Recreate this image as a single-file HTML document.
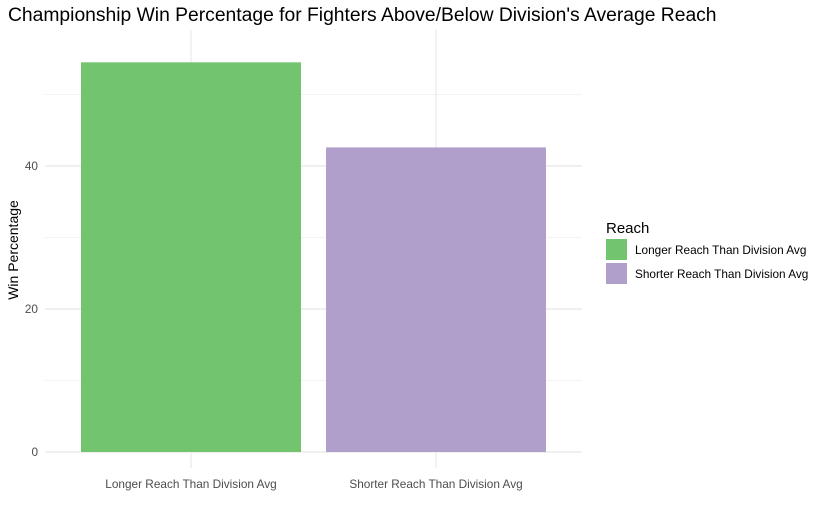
<!DOCTYPE html>
<html><head><meta charset="utf-8"><style>
body{margin:0;background:#fff;font-family:"Liberation Sans",Arial,sans-serif}
</style></head><body>
<svg width="823" height="514" xmlns="http://www.w3.org/2000/svg">
<text x="8" y="21" font-size="19.3" fill="#000">Championship Win Percentage for Fighters Above/Below Division's Average Reach</text>
<g id="grid"></g>
<g id="bars"></g>
<g id="axes"></g>
<text transform="translate(18,250) rotate(-90)" text-anchor="middle" font-size="14" fill="#000">Win Percentage</text>
<g>
<text x="606" y="233" font-size="15" fill="#000">Reach</text>
<rect x="606" y="239" width="21" height="21" fill="#72c46f"/>
<text x="635" y="254" font-size="11.8" fill="#000">Longer Reach Than Division Avg</text>
<rect x="606" y="263" width="21" height="21" fill="#b09ecb"/>
<text x="635" y="278" font-size="11.8" fill="#000">Shorter Reach Than Division Avg</text>
</g>
</svg>
<script>
const categories=["Longer Reach Than Division Avg","Shorter Reach Than Division Avg"];
const values=[54.5,42.6];
const colors=["#72c46f","#b09ecb"];
const majorTicks=[0,20,40];
const minorTicks=[10,30,50];
const NS="http://www.w3.org/2000/svg";
const x0=45,x1=582,yTop=30;
const y=v=>452-v*7.15;
const band=245;
const xc=i=>191+band*i;
const bw=220;
function mk(t,a,p){const e=document.createElementNS(NS,t);for(const k in a)e.setAttribute(k,a[k]);p.appendChild(e);return e;}
const g=document.getElementById('grid'),b=document.getElementById('bars'),ax=document.getElementById('axes');
minorTicks.forEach(v=>{const l=mk('line',{x1:x0,x2:x1,y1:y(v),y2:y(v),stroke:'#f3f3f3','stroke-width':1},g);

});
majorTicks.forEach(v=>{const l=mk('line',{x1:x0,x2:x1,y1:y(v),y2:y(v),stroke:'#e8e8e8','stroke-width':1.2},g);


const t=mk('text',{x:38,y:y(v)+4,'text-anchor':'end','font-size':11.8,fill:'#4d4d4d'},ax);t.textContent=v;

});
categories.forEach((c,i)=>{const l=mk('line',{x1:xc(i),x2:xc(i),y1:yTop,y2:468,stroke:'#e8e8e8','stroke-width':1.2},g);


const r=mk('rect',{x:xc(i)-bw/2,y:y(values[i]),width:bw,height:y(0)-y(values[i]),fill:colors[i]},b);


const t=mk('text',{x:xc(i),y:488,'text-anchor':'middle','font-size':11.8,fill:'#4d4d4d'},ax);t.textContent=c;

});
</script>
</body></html>
